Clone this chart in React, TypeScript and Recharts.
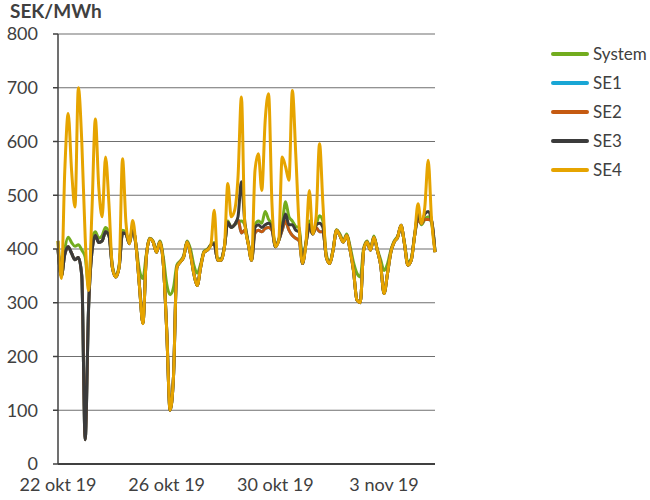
import React from "react"
import { LineChart, Line, XAxis, YAxis, CartesianGrid } from "recharts"

// 3-hour samples, 22 okt 19 00:00 -> 4 nov 19 21:00
const STEP_HOURS = 3

const xTicks = [0, 96, 192, 288]
const xLabels = ["22 okt 19", "26 okt 19", "30 okt 19", "3 nov 19"]
const yTicks = [0, 100, 200, 300, 400, 500, 600, 700, 800]

const system = [
  415, 350, 400, 422, 412, 405, 408, 398, 385, 330, 420, 432, 420, 425, 440, 430,
  370, 350, 370, 435, 430, 412, 440, 405, 360, 345, 390, 420, 415, 398, 415, 385,
  335, 315, 328, 370, 378, 388, 415, 400, 370, 355, 372, 396, 400, 408, 412, 382,
  382, 405, 452, 440, 445, 450, 452, 445, 412, 382, 445, 452, 448, 470, 455, 445,
  406, 418, 445, 488, 460, 452, 442, 440, 378, 412, 452, 430, 445, 462, 452, 390,
  375, 400, 436, 428, 415, 428, 405, 375, 355, 348, 402, 415, 400, 424, 400, 380,
  360, 372, 398, 415, 424, 440, 412, 375, 382, 426, 460, 445, 455, 460, 448, 396,
]

const se1 = [
  400, 350, 390, 404, 392, 380, 384, 350, 45, 290, 395, 425, 412, 415, 432, 425,
  366, 348, 366, 430, 428, 410, 438, 404, 330, 262, 385, 419, 413, 394, 413, 373,
  250, 100, 162, 366, 376, 385, 413, 391, 354, 332, 366, 394, 398, 407, 410, 379,
  379, 404, 450, 440, 445, 455, 430, 435, 410, 379, 430, 435, 432, 438, 440, 435,
  404, 416, 435, 452, 435, 425, 420, 415, 373, 410, 440, 428, 440, 432, 432, 385,
  373, 398, 435, 425, 413, 425, 398, 360, 305, 300, 398, 413, 398, 422, 398, 370,
  317, 354, 394, 413, 422, 444, 410, 370, 379, 425, 455, 447, 455, 455, 453, 394,
]

const se2 = [
  400, 350, 390, 404, 392, 380, 384, 350, 45, 290, 395, 425, 412, 415, 432, 425,
  366, 348, 366, 430, 428, 410, 438, 404, 330, 262, 385, 419, 413, 394, 413, 373,
  250, 100, 162, 366, 376, 385, 413, 391, 354, 332, 366, 394, 398, 407, 410, 379,
  379, 404, 450, 440, 445, 455, 430, 435, 410, 379, 430, 435, 432, 438, 440, 435,
  404, 416, 435, 452, 435, 425, 420, 415, 373, 410, 440, 428, 440, 432, 432, 385,
  373, 398, 435, 425, 413, 425, 398, 360, 305, 300, 398, 413, 398, 422, 398, 370,
  317, 354, 394, 413, 422, 444, 410, 370, 379, 425, 455, 447, 455, 455, 453, 394,
]

const se3 = [
  400, 350, 390, 404, 392, 380, 384, 350, 45, 290, 395, 425, 412, 415, 432, 425,
  366, 348, 366, 430, 428, 410, 438, 404, 330, 262, 385, 419, 413, 394, 413, 373,
  250, 100, 162, 366, 376, 385, 413, 391, 354, 332, 366, 394, 398, 407, 410, 379,
  379, 404, 450, 440, 445, 460, 525, 450, 410, 379, 440, 445, 440, 445, 448, 440,
  404, 416, 440, 465, 445, 445, 435, 432, 373, 410, 445, 428, 445, 448, 440, 385,
  373, 398, 435, 425, 413, 425, 398, 360, 305, 300, 398, 413, 398, 422, 398, 370,
  317, 354, 394, 413, 422, 444, 410, 370, 379, 425, 465, 447, 465, 470, 453, 394,
]

const se4 = [
  415, 345, 546, 652, 546, 478, 700, 600, 422, 323, 472, 642, 515, 460, 571, 484,
  366, 348, 366, 568, 450, 410, 453, 404, 329, 261, 385, 419, 413, 394, 413, 373,
  249, 100, 162, 366, 376, 385, 413, 391, 354, 332, 366, 394, 398, 407, 472, 379,
  379, 404, 522, 460, 472, 534, 683, 447, 410, 379, 546, 577, 509, 639, 689, 484,
  404, 416, 571, 553, 528, 695, 577, 441, 373, 410, 509, 428, 460, 596, 484, 385,
  373, 398, 435, 425, 413, 425, 398, 360, 305, 300, 398, 413, 398, 422, 398, 370,
  317, 354, 394, 413, 422, 444, 410, 370, 379, 425, 484, 447, 478, 565, 453, 394,
]

const series = [
  { key: "System", color: "#72AC1E", values: system },
  { key: "SE1", color: "#19A6D5", values: se1 },
  { key: "SE2", color: "#C55A11", values: se2 },
  { key: "SE3", color: "#3B3B3B", values: se3 },
  { key: "SE4", color: "#E6A400", values: se4 },
]

const data = se4.map((_, i) => {
  const row: any = { t: i * STEP_HOURS }
  series.forEach((s) => {
    row[s.key] = s.values[i]
  })
  return row
})

const FONT = "Lato, 'Open Sans', sans-serif"

export default function App() {
  return (
    <div style={{ position: "absolute", left: 0, top: 0, width: 650, height: 500, background: "#fff", fontFamily: FONT }}>
      <div style={{ position: "absolute", left: 10, top: 1, fontSize: 19, lineHeight: "19px", fontWeight: 700, color: "#404040" }}>
        SEK/MWh
      </div>
      <LineChart width={650} height={500} data={data} margin={{ top: 34, right: 215, bottom: 0, left: 8 }}>
        <CartesianGrid vertical={false} stroke="#6f6f6f" strokeWidth={1.2} />
        <XAxis
          dataKey="t"
          type="number"
          domain={[0, 333]}
          ticks={xTicks}
          tickFormatter={(v) => xLabels[xTicks.indexOf(v)]}
          tickSize={0}
          tickMargin={14}
          height={36}
          stroke="#404040"
          strokeWidth={2}
          tick={{ fontSize: 18, fill: "#404040", fontFamily: FONT }}
        />
        <YAxis
          domain={[0, 800]}
          ticks={yTicks}
          interval={0}
          width={50}
          tickSize={5}
          tickMargin={15}
          stroke="#404040"
          strokeWidth={1.5}
          tick={{ fontSize: 18, fill: "#404040", fontFamily: FONT }}
        />
        {series.map((s) => (
          <Line
            key={s.key}
            type="monotone"
            dataKey={s.key}
            stroke={s.color}
            strokeWidth={3}
            dot={false}
            isAnimationActive={false}
          />
        ))}
      </LineChart>
      <div style={{ position: "absolute", left: 551, top: 39 }}>
        {series.map((s) => (
          <div key={s.key} style={{ display: "flex", alignItems: "center", height: 29 }}>
            <div style={{ width: 38, height: 4, background: s.color, borderRadius: 2, marginRight: 4 }} />
            <span style={{ fontSize: 17, color: "#404040" }}>{s.key}</span>
          </div>
        ))}
      </div>
    </div>
  )
}
